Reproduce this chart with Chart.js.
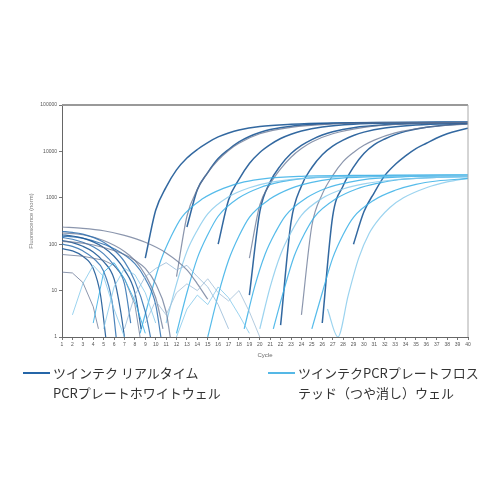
<!DOCTYPE html>
<html>
<head>
<meta charset="utf-8">
<script src="https://cdn.jsdelivr.net/npm/chart.js@4.4.1/dist/chart.umd.min.js"></script>
<style>
  body { margin: 0; background: #fff; font-family: "Noto Sans CJK JP", "Noto Sans", sans-serif; }
  #wrap { position: relative; width: 500px; height: 500px; }
  #c { position: absolute; left: 0; top: 0; }
  .key { position: absolute; font-size: 13px; line-height: 20px; color: #333; }
</style>
</head>
<body>
<div id="wrap">
  <canvas id="c" width="500" height="365"></canvas>
  <i style="position:absolute;left:23px;top:372px;width:27px;height:2px;background:#2566a8"></i>
  <div class="key" style="left:53px;top:363px">ツインテク リアルタイム<br>PCRプレートホワイトウェル</div>
  <i style="position:absolute;left:268px;top:372px;width:27px;height:2px;background:#55b8e6"></i>
  <div class="key" style="left:298px;top:363px">ツインテクPCRプレートフロス<br>テッド（つや消し）ウェル</div>
</div>
<script>
// cycles on x, normalised fluorescence on y (log)
const yTicks = [1, 10, 100, 1000, 10000, 100000];

// white wells: rising curves
const dark09 = [[9,50],[10,540],[11,1700],[12,4000],[13,7200],[14,11000],[15,15500],[16,20500],[17,25000],[18,29000],[20,34500],[23,38500],[27,41000],[33,42000],[40,42500]];
const dark13 = [[13,235],[14,1500],[15,3500],[16,7000],[17,11000],[18,16000],[19,21000],[20,25500],[21,29500],[23,35000],[26,39000],[30,41500],[40,42500]];
const dark16 = [[16,100],[17,900],[18,2500],[19,5500],[20,9500],[21,14000],[22,19000],[23,23500],[24,27500],[26,33500],[29,38500],[33,41000],[40,42000]];
const dark19 = [[19,8],[20,500],[21,2200],[22,5000],[23,9000],[24,13500],[25,18000],[26,22500],[27,26500],[29,32500],[32,37500],[36,40500],[40,41500]];
const dark22 = [[22,1.8],[23,300],[24,1800],[25,4500],[26,8500],[27,13000],[28,17500],[29,22000],[30,26000],[32,32000],[35,37000],[40,40500]];
const dark26 = [[26,2],[27,400],[28,1800],[29,4600],[30,9000],[31,14000],[32,18500],[33,23000],[34,27000],[36,33000],[38,37000],[40,39500]];
const dark29 = [[29,100],[30,500],[31,1300],[32,3000],[33,5200],[34,8000],[35,11500],[36,15000],[37,19500],[38,24000],[39,28000],[40,31500]];
const gray12 = [[12,20],[13,400],[14,1500],[15,3500],[16,6500],[17,10500],[18,15000],[20,24000],[23,33000],[27,39000],[32,41500],[40,42000]];
const gray19 = [[19,50],[20,700],[21,2000],[22,4200],[23,7500],[24,11500],[25,16000],[27,24000],[30,33000],[34,39000],[40,41500]];
const gray24 = [[24,3],[25,250],[26,1200],[27,3000],[28,6000],[29,9500],[30,13500],[31,17500],[33,25000],[36,33000],[40,39000]];

// frosted wells: rising curves
const light08 = [[8.5,1.2],[9.5,8],[10.5,45],[11.5,150],[12.5,380],[14.5,950],[16.5,1600],[18.5,2200],[20.5,2600],[24,2900],[30,3050],[40,3100]];
const light12 = [[12,1.2],[13,9],[14,50],[15,160],[16,400],[18,1000],[20,1650],[22,2200],[24,2600],[28,2900],[34,3050],[40,3100]];
const light15 = [[15,1],[16,8],[17,45],[18,150],[19,380],[21,950],[23,1600],[25,2150],[27,2550],[31,2850],[36,3000],[40,3050]];
const light18 = [[18.5,1.5],[19.5,12],[20.5,60],[21.5,180],[22.5,420],[24.5,1000],[26.5,1650],[28.5,2150],[30.5,2550],[34,2850],[40,3000]];
const light21 = [[21.3,1.5],[22.3,10],[23.3,55],[24.3,170],[25.3,400],[27.3,950],[29.3,1550],[31.3,2050],[33.3,2450],[37,2750],[40,2850]];
const light25 = [[25,1.5],[26,9],[27,50],[28,160],[29,380],[31,900],[33,1450],[35,1950],[37,2300],[40,2600]];
const light28 = [[26.5,4],[27.5,1],[28.5,8],[29.5,50],[30.5,170],[31.5,360],[32.5,620],[33.8,1000],[36,1650],[38,2200],[40,2650]];
const pale11 = [[11,2],[12,14],[13,70],[14,200],[15,450],[17,1050],[19,1650],[21,2150],[24,2600],[29,2900],[40,3000]];
const pale20 = [[20,1.5],[21,12],[22,60],[23,180],[24,420],[26,980],[28,1550],[30,2000],[33,2450],[37,2750],[40,2850]];

// early-cycle baselines
const baseA = [[1,190],[2,180],[3,165],[4,140],[5,110],[6,75],[7,42],[8,16],[9,3.5],[9.5,1]];
const baseB = [[1,160],[2,150],[3,135],[4,112],[5,85],[6,55],[7,28],[8,9],[8.6,1.5]];
const baseC = [[1,140],[2,128],[3,110],[4,88],[5,62],[6,35],[7,14],[7.6,2]];
const baseD = [[1,120],[2,108],[3,90],[4,68],[5,42],[6,18],[6.6,4],[7,1]];
const baseE = [[1,100],[2,90],[3,72],[4,50],[5,26],[5.8,6],[6.2,1]];
const baseF = [[1,175],[3,160],[5,120],[7,70],[8,45],[9,22],[10,7],[10.7,1.5]];
const baseG = [[1,80],[2,72],[3,55],[4,30],[4.7,8],[5.2,1]];
const baseH = [[1,150],[2.5,140],[4,118],[6,80],[8,38],[9,18],[10,5],[10.5,1]];
const grayTop = [[1,235],[3,220],[5,195],[7,155],[9,110],[11,65],[13,28],[14,14],[15,6.5]];
const grayMid = [[1,115],[3,105],[5,85],[7,60],[8,45],[9,30],[10,14],[11,3.5],[11.4,1]];
const grayLow = [[1,60],[3,55],[5,45],[6,35],[7,18],[8,5],[8.5,1]];
const grayStep = [[1,25],[2,24],[3,15],[4,4.5],[4.5,1.5]];

// noisy frosted baselines
const noise1 = [[2,3],[3,14],[4,35],[5,20],[6,4],[7,1]];
const noise2 = [[4,2],[5,25],[6,40],[7,18],[8,6],[9,1.2]];
const noise3 = [[5,1.5],[6,12],[7,30],[8,22],[9,9],[10,2]];
const noise4 = [[9,2],[10,6],[11,3],[12,9],[13,14],[14,10],[15,18],[16,9],[17,6],[18,10],[19,3.5],[20,1]];
const noise5 = [[7,1.5],[8,8],[9,20],[10,30],[11,40],[12,28],[13,35],[14,20],[15,12],[16,5],[17,1.5]];
const noise6 = [[12,1],[13,4],[14,8],[15,5],[16,12],[17,7],[18,3],[19,1.2]];

const cycles = [];
for (let i = 1; i <= 40; i++) cycles.push(i);

const pts = a => a.map(p => ({ x: p[0], y: p[1] }));

function curve(arr, color, w) {
  return { data: pts(arr), borderColor: color, borderWidth: w || 1.2, pointRadius: 0,
    cubicInterpolationMode: 'monotone', fill: false };
}
function zig(arr, color) {
  return { data: pts(arr), borderColor: color, borderWidth: 1, pointRadius: 0, tension: 0, fill: false };
}

const DARK = 'rgba(28,88,150,0.9)';
const MID = 'rgba(45,110,175,0.85)';
const GRAY = 'rgba(100,115,145,0.75)';
const LIGHT = 'rgba(55,175,230,0.85)';
const PALE = 'rgba(130,200,235,0.8)';

const datasets = [
  zig(noise1, PALE), zig(noise2, LIGHT), zig(noise3, PALE),
  zig(noise4, 'rgba(160,190,215,0.8)'), zig(noise5, 'rgba(150,185,215,0.8)'), zig(noise6, PALE),
  curve(grayTop, GRAY), curve(grayMid, GRAY), zig(grayLow, GRAY), zig(grayStep, GRAY),
  curve(baseA, MID), curve(baseB, DARK), curve(baseC, MID), curve(baseD, DARK),
  curve(baseE, MID), curve(baseF, GRAY), curve(baseG, DARK), curve(baseH, MID),
  curve(pale11, PALE), curve(pale20, PALE),
  curve(light08, LIGHT), curve(light12, LIGHT), curve(light15, LIGHT), curve(light18, LIGHT),
  curve(light21, LIGHT), curve(light25, LIGHT), curve(light28, PALE),
  curve(gray12, GRAY), curve(gray19, GRAY), curve(gray24, GRAY),
  curve(dark09, DARK, 1.5), curve(dark13, DARK, 1.5), curve(dark16, DARK, 1.5), curve(dark19, DARK, 1.5),
  curve(dark22, DARK, 1.5), curve(dark26, DARK, 1.5), curve(dark29, DARK, 1.5)
];

const frame = {
  id: 'frame',
  afterDraw(chart) {
    const { ctx, chartArea: a } = chart;
    ctx.save();
    ctx.strokeStyle = '#999';
    ctx.lineWidth = 2;
    ctx.beginPath();
    ctx.moveTo(a.left, a.top); ctx.lineTo(a.right, a.top);
    ctx.stroke();
    ctx.lineWidth = 1;
    ctx.strokeStyle = '#aaa';
    ctx.beginPath();
    ctx.moveTo(a.right, a.top); ctx.lineTo(a.right, a.bottom);
    ctx.stroke();
    ctx.restore();
  }
};

new Chart(document.getElementById('c'), {
  type: 'line',
  data: { datasets },
  options: {
    responsive: false,
    animation: false,
    layout: { padding: { left: 28, right: 32, top: 105, bottom: 2 } },
    plugins: { legend: { display: false }, tooltip: { enabled: false } },
    scales: {
      x: {
        type: 'linear', min: 1, max: 40,
        afterBuildTicks: s => { s.ticks = cycles.map(v => ({ value: v })); },
        afterFit: s => { s.height = 26; },
        grid: { drawOnChartArea: false, tickLength: 3, color: '#777' },
        border: { color: '#666' },
        ticks: { autoSkip: false, maxRotation: 0, padding: 2, color: '#555', font: { size: 5 } },
        title: { display: true, text: 'Cycle', color: '#666', font: { size: 6 }, padding: { top: 2 } }
      },
      y: {
        type: 'logarithmic', min: 1, max: 100000,
        afterBuildTicks: s => { s.ticks = yTicks.map(v => ({ value: v })); },
        afterFit: s => { s.width = 34; },
        grid: { drawOnChartArea: false, tickLength: 3, color: '#777' },
        border: { color: '#666' },
        ticks: { padding: 2, color: '#555', font: { size: 5 }, callback: v => String(v) },
        title: { display: true, text: 'Fluorescence (norm)', color: '#777', font: { size: 6 }, padding: 0 }
      }
    }
  },
  plugins: [frame]
});
</script>
</body>
</html>
